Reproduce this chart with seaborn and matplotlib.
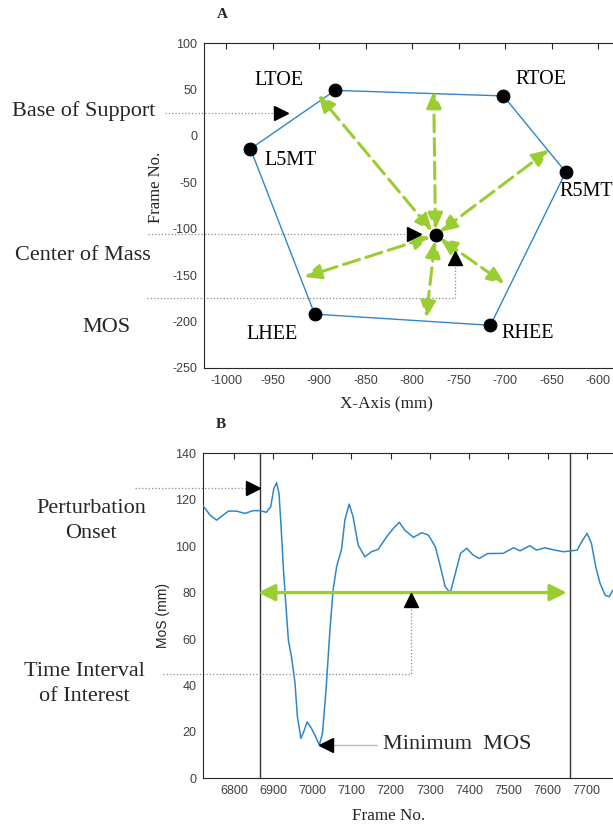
import numpy as np
import pandas as pd
import matplotlib
matplotlib.use("Agg")
import matplotlib.pyplot as plt
import seaborn as sns

# ---------------- Panel A data ----------------
marker_names = ["LTOE", "RTOE", "R5MT", "RHEE", "LHEE", "L5MT"]
marker_x = [-883, -702, -635, -716, -905, -974]
marker_y = [49, 43, -39, -204, -192, -14]
com_x = [-775]
com_y = [-107]
mos_end_x = [-901, -777, -653, -701, -785, -916]
mos_end_y = [44, 48, -15, -159, -196, -152]
label_x = [-943, -662, -642, -676, -951, -931]
label_y = [60, 61, -60, -213, -214, -27]
label_ha = ["center", "center", "left", "center", "center", "center"]

# pointers (A)
bos_ptr = (-941, 25)
com_ptr = (-798, -106)
mos_ptr = (-754, -132)
mos_ptr_corner_y = -175

# ---------------- Panel B data ----------------
frame = [6722, 6739, 6756, 6773, 6786, 6807, 6828, 6849, 6866, 6883, 6894, 6902,
         6909, 6915, 6920, 6926, 6933, 6939, 6947, 6956, 6962, 6971, 6978, 6987,
         6998, 7009, 7018, 7026, 7035, 7045, 7053, 7062, 7075, 7083, 7094, 7104,
         7117, 7134, 7151, 7168, 7190, 7207, 7222, 7236, 7258, 7279, 7296, 7314,
         7327, 7339, 7352, 7365, 7378, 7394, 7410, 7426, 7447, 7487, 7513, 7530,
         7555, 7572, 7593, 7619, 7640, 7657, 7676, 7687, 7701, 7712, 7723, 7734,
         7747, 7757, 7767]
mos = [117.3, 113.4, 111.2, 113.4, 115.1, 115.1, 114.1, 115.3, 115.3, 114.6, 117.0, 124.9,
       127.3, 122.8, 109.8, 91.1, 73.9, 59.5, 52.3, 40.9, 26.5, 17.2, 20.0, 24.3,
       21.5, 17.8, 14.3, 19.3, 38.0, 63.8, 81.0, 91.1, 99.0, 111.2, 118.1, 112.7,
       100.5, 95.4, 97.6, 98.6, 104.1, 107.7, 110.3, 106.9, 103.8, 105.8, 104.8, 99.7,
       91.1, 82.5, 79.9, 88.3, 96.9, 99.1, 96.2, 94.7, 96.8, 96.9, 99.3, 98.0,
       100.2, 98.3, 99.3, 98.3, 97.6, 97.9, 98.3, 101.9, 105.5, 101.2, 91.1, 84.0,
       78.9, 78.2, 81.1]
interval_start = 6866
interval_end = 7657
interval_y = 80
onset_ptr = (6848, 125)
interval_ptr = (7253, 77)
interval_corner_y = 45
min_ptr = (7036, 14.4)
min_line_end = 7166
min_text_x = 7180

# ---------------- style ----------------
sns.set_theme(style="white")
plt.rcParams["font.family"] = ["Liberation Sans", "DejaVu Sans"]
plt.rcParams["axes.unicode_minus"] = False
SERIF = ["Liberation Serif", "DejaVu Serif"]
BLUE = "#2f86c9"
GREEN = "#9acd32"
AXC = "#262626"
TICKC = "#404040"
DOT = "#8c8c8c"
BIG = 16

W, H = 613, 832
fig = plt.figure(figsize=(W / 100, H / 100), dpi=100)


def add_ax(left, top, width, height):
    return fig.add_axes([left / W, (H - top - height) / H, width / W, height / H])


def style_ax(ax):
    for s in ax.spines.values():
        s.set_visible(True)
        s.set_color(AXC)
        s.set_linewidth(0.8)
    ax.tick_params(direction="in", top=True, right=True, length=4, width=0.8,
                   color=AXC, labelcolor=TICKC, labelsize=9, pad=5)
    ax.grid(False)


def px_to_data_x(ax, px):
    return ax.transData.inverted().transform((px, 0))[0]


# ================= Panel A =================
ax1 = add_ax(204, 43, 416.6, 325)
ax1.set_xlim(-1024, -576)
ax1.set_ylim(-250, 100)
style_ax(ax1)
ax1.set_xticks(np.arange(-1000, -599, 50))
ax1.set_yticks(np.arange(-250, 101, 50))

poly = pd.DataFrame({"x": marker_x + marker_x[:1], "y": marker_y + marker_y[:1]})
sns.lineplot(data=poly, x="x", y="y", sort=False, estimator=None, color=BLUE,
             lw=1.0, ax=ax1, zorder=2)

for ex, ey in zip(mos_end_x, mos_end_y):
    ax1.annotate("", xy=(ex, ey), xytext=(com_x[0], com_y[0]),
                 arrowprops=dict(arrowstyle="<|-|>,head_length=1.0,head_width=0.45",
                                 color=GREEN, lw=2.2, linestyle=(0, (5.5, 2.2)),
                                 shrinkA=4, shrinkB=0, mutation_scale=10),
                 zorder=3)

pts = pd.DataFrame({"x": marker_x + com_x, "y": marker_y + com_y})
sns.scatterplot(data=pts, x="x", y="y", s=85, color="black", edgecolor="black",
                ax=ax1, zorder=5)

for name, lx, ly, ha in zip(marker_names, label_x, label_y, label_ha):
    ax1.text(lx, ly, name, ha=ha, va="center", fontsize=14.5, family=SERIF, color="black")

# pointers A
x0 = px_to_data_x(ax1, 165)
ax1.plot([x0, bos_ptr[0]], [bos_ptr[1], bos_ptr[1]], ls=":", color=DOT, lw=0.9, clip_on=False)
ax1.plot([bos_ptr[0]], [bos_ptr[1]], marker=">", ms=10, color="black", clip_on=False, zorder=6)
x0 = px_to_data_x(ax1, 148)
ax1.plot([x0, com_ptr[0]], [com_ptr[1], com_ptr[1]], ls=":", color=DOT, lw=0.9, clip_on=False)
ax1.plot([com_ptr[0]], [com_ptr[1]], marker=">", ms=10, color="black", clip_on=False, zorder=6)
x0 = px_to_data_x(ax1, 147)
ax1.plot([x0, mos_ptr[0], mos_ptr[0]], [mos_ptr_corner_y, mos_ptr_corner_y, mos_ptr[1] - 6],
         ls=":", color=DOT, lw=0.9, clip_on=False)
ax1.plot([mos_ptr[0]], [mos_ptr[1]], marker="^", ms=10, color="black", clip_on=False, zorder=6)

ax1.set_xlabel("X-Axis (mm)", family=SERIF, fontsize=12.3, color="#222222", va="top")
ax1.xaxis.set_label_coords(0.4386, -0.086)
ax1.set_ylabel("Frame No.", family=SERIF, fontsize=12, color="#222222")
ax1.yaxis.set_label_coords(-0.096, 0.555)

fig.text(222.7 / W, 1 - 14 / H, "A", family=SERIF, fontsize=11, weight="bold",
         ha="center", va="center")
fig.text(84 / W, 1 - 111 / H, "Base of Support", family=SERIF, fontsize=BIG,
         ha="center", va="center")
fig.text(83 / W, 1 - 256 / H, "Center of Mass", family=SERIF, fontsize=BIG,
         ha="center", va="center")
fig.text(106 / W, 1 - 327 / H, "MOS", family=SERIF, fontsize=BIG,
         ha="center", va="center")

# ================= Panel B =================
ax2 = add_ax(203.3, 453.3, 418.7, 325)
ax2.set_xlim(6722, 7790)
ax2.set_ylim(0, 140)
style_ax(ax2)
ax2.set_xticks(np.arange(6800, 7701, 100))
ax2.set_yticks(np.arange(0, 141, 20))

sns.lineplot(x=frame, y=mos, sort=False, estimator=None, color=BLUE, lw=1.1, ax=ax2,
             zorder=3)
ax2.axvline(interval_start, color="#333333", lw=1.0, zorder=2)
ax2.axvline(interval_end, color="#333333", lw=1.0, zorder=2)

ax2.annotate("", xy=(interval_end - 8, interval_y), xytext=(interval_start - 4, interval_y),
             arrowprops=dict(arrowstyle="<|-|>,head_length=1.0,head_width=0.5",
                             color=GREEN, lw=2.4, shrinkA=0, shrinkB=0,
                             mutation_scale=10), zorder=4)

x0 = px_to_data_x(ax2, 135)
ax2.plot([x0, onset_ptr[0]], [onset_ptr[1], onset_ptr[1]], ls=":", color=DOT, lw=0.9, clip_on=False)
ax2.plot([onset_ptr[0]], [onset_ptr[1]], marker=">", ms=10, color="black", clip_on=False, zorder=6)
x0 = px_to_data_x(ax2, 163)
ax2.plot([x0, interval_ptr[0], interval_ptr[0]],
         [interval_corner_y, interval_corner_y, interval_ptr[1] - 2],
         ls=":", color=DOT, lw=0.9, clip_on=False)
ax2.plot([interval_ptr[0]], [interval_ptr[1]], marker="^", ms=10, color="black", zorder=6)
ax2.plot([min_ptr[0], min_line_end], [min_ptr[1], min_ptr[1]], color="#bbbbbb", lw=1.0)
ax2.plot([min_ptr[0]], [min_ptr[1]], marker="<", ms=10, color="black", zorder=6)
ax2.text(min_text_x, min_ptr[1], "Minimum  MOS", family=SERIF, fontsize=BIG,
         ha="left", va="center")

ax2.set_xlabel("Frame No.", family=SERIF, fontsize=12.3, color="#222222", va="top")
ax2.xaxis.set_label_coords(0.442, -0.091)
ax2.set_ylabel("MoS (mm)", fontsize=10, color="#222222")
ax2.yaxis.set_label_coords(-0.08, 0.502)

fig.text(220.7 / W, 1 - 425 / H, "B", family=SERIF, fontsize=11, weight="bold",
         ha="center", va="center")
fig.text(91 / W, 1 - 521 / H, "Perturbation\nOnset", family=SERIF, fontsize=BIG,
         ha="center", va="center", linespacing=1.45)
fig.text(84 / W, 1 - 684 / H, "Time Interval\nof Interest", family=SERIF, fontsize=BIG,
         ha="center", va="center", linespacing=1.45)

fig.savefig("out.png", dpi=100)
